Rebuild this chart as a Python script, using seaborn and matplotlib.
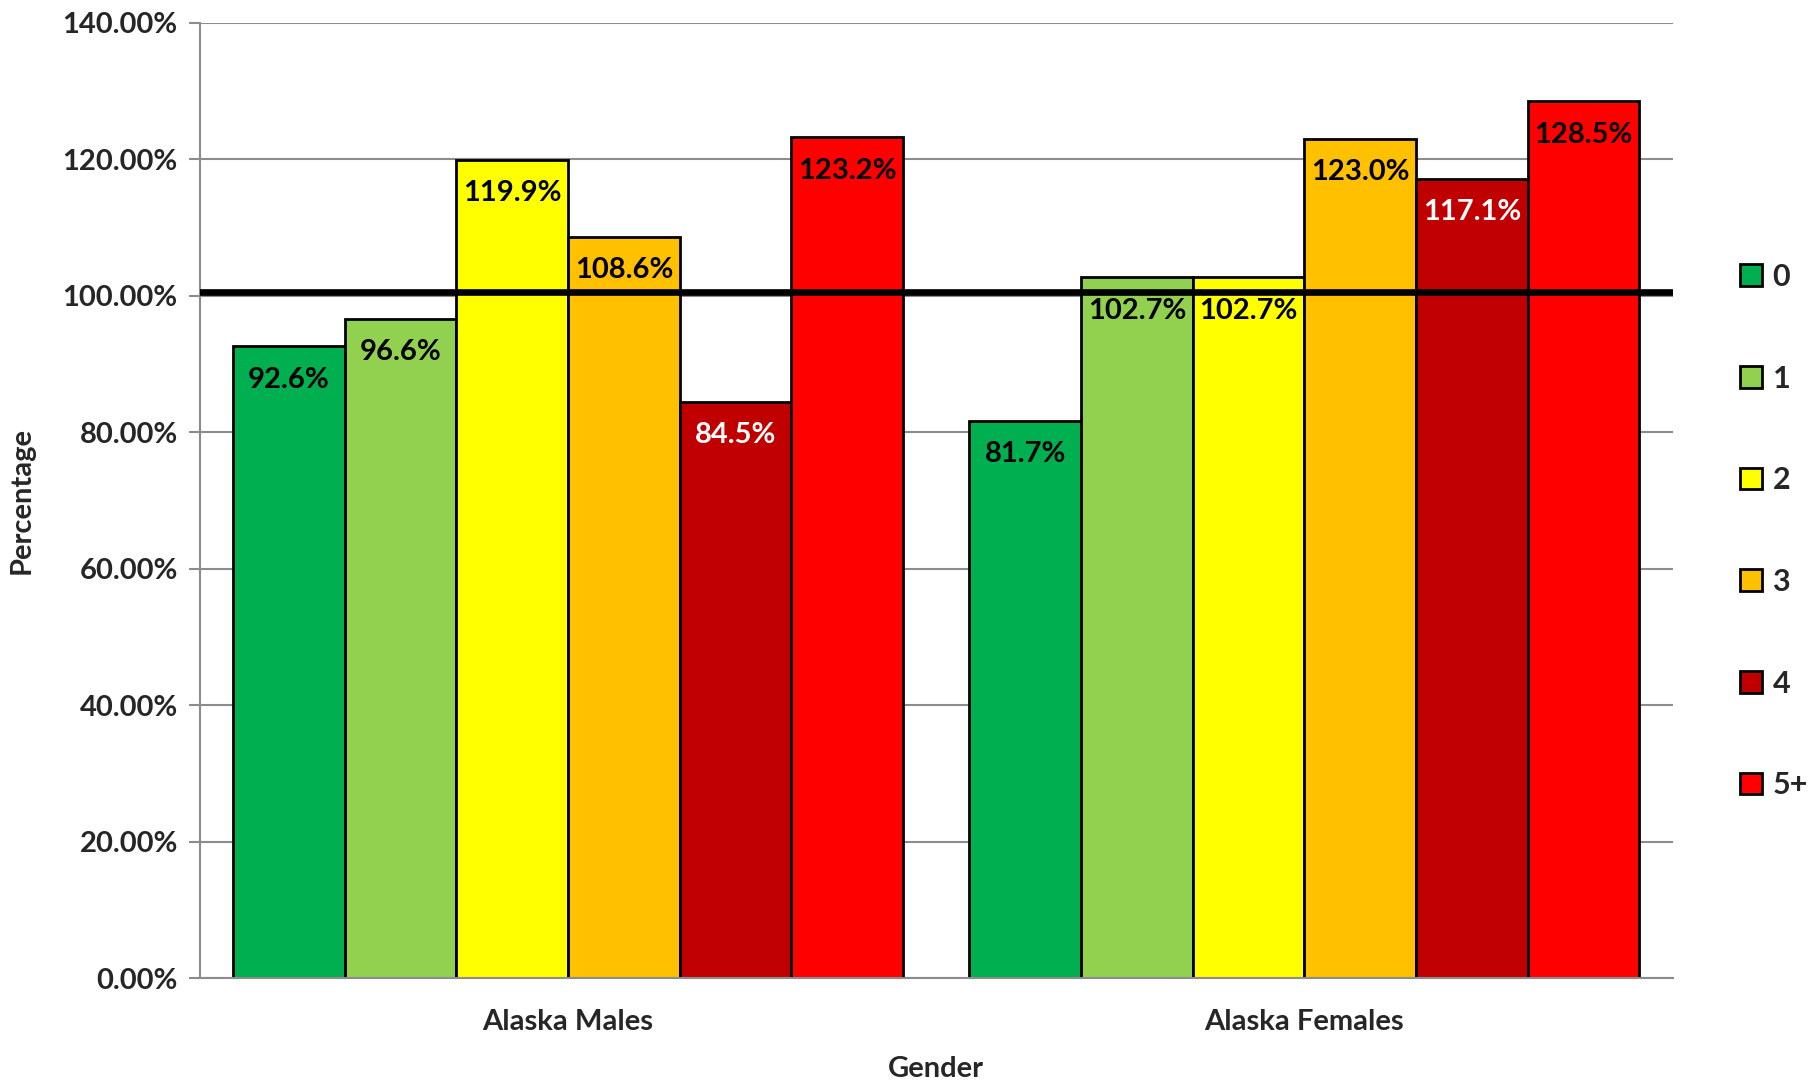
import matplotlib
matplotlib.use("Agg")
import matplotlib.pyplot as plt
import seaborn as sns
import pandas as pd
from matplotlib.patches import Patch

groups = ["Alaska Males", "Alaska Females"]
counts = ["0", "1", "2", "3", "4", "5+"]
males = [92.6, 96.6, 119.9, 108.6, 84.5, 123.2]
females = [81.7, 102.7, 102.7, 123.0, 117.1, 128.5]
colors = ["#00B050", "#92D050", "#FFFF00", "#FFC000", "#C00000", "#FF0000"]
label_colors = ["black", "black", "black", "black", "white", "black"]
yticks = [0, 20, 40, 60, 80, 100, 120, 140]
ref_level = 100.5

rows = []
for g, vals in zip(groups, [males, females]):
    for c, v in zip(counts, vals):
        rows.append({"Gender": g, "Count": c, "Percentage": v})
df = pd.DataFrame(rows)

sns.set_theme(style="white")
plt.rcParams["font.family"] = ["Lato", "DejaVu Sans"]
plt.rcParams["font.weight"] = "bold"

FS = 21

fig = plt.figure(figsize=(18.18, 10.81), dpi=100)
ax = fig.add_axes([0.110, 0.095, 0.810, 0.884])

sns.barplot(data=df, x="Gender", y="Percentage", hue="Count", order=groups,
            hue_order=counts, palette=colors, edgecolor="black", linewidth=2,
            width=0.91, gap=0, saturation=1, ax=ax, legend=False, zorder=2)

ax.set_ylim(0, 140)
ax.set_xlim(-0.5, 1.5)
ax.set_yticks(yticks)
ax.set_yticklabels([f"{t:.2f}%" for t in yticks], fontsize=FS, fontweight="bold")
ax.grid(axis="y", color="#8c8c8c", linewidth=1.5, zorder=0)
ax.set_axisbelow(True)
for s in ["top", "right"]:
    ax.spines[s].set_visible(False)
for s in ["left", "bottom"]:
    ax.spines[s].set_color("#8c8c8c")
    ax.spines[s].set_linewidth(1.5)
ax.tick_params(axis="y", which="major", left=True, length=8, width=1.5,
               color="#8c8c8c", pad=8)
ax.tick_params(axis="x", length=0, pad=22, labelsize=FS)
for lbl in ax.get_xticklabels():
    lbl.set_fontweight("bold")

ax.axhline(ref_level, color="black", linewidth=4.8, zorder=3)

for ci, cont in enumerate(ax.containers):
    for patch in cont.patches:
        h = patch.get_height()
        x = patch.get_x() + patch.get_width() / 2
        ax.annotate(f"{h:.1f}%", xy=(x, h), xytext=(0, -24), textcoords="offset points",
                    ha="center", va="center", fontsize=FS, fontweight="bold",
                    color=label_colors[ci], zorder=4)

ax.set_xlabel("Gender", fontsize=FS, fontweight="bold")
ax.set_ylabel("Percentage", fontsize=FS, fontweight="bold")
ax.xaxis.set_label_coords(0.5, -0.081)
ax.yaxis.set_label_coords(-0.112, 0.5)

handles = [Patch(facecolor=c, edgecolor="black", linewidth=2) for c in colors]
leg = ax.legend(handles, counts, loc="center left", bbox_to_anchor=(1.027, 0.468),
                frameon=False, fontsize=22, handlelength=0.72, handleheight=0.72,
                handletextpad=0.35, labelspacing=2.41)
for t in leg.get_texts():
    t.set_fontweight("bold")

fig.savefig("out.png", dpi=100)
